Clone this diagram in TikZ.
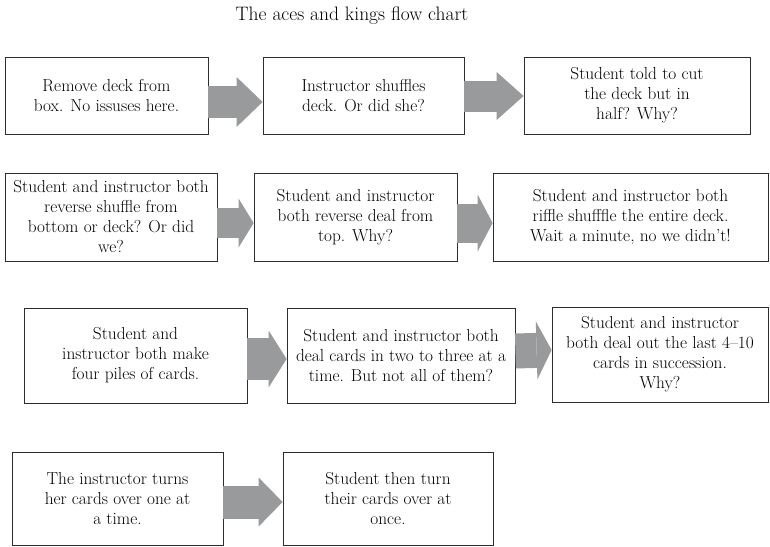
\documentclass[tikz,border=0pt]{standalone}
\usetikzlibrary{arrows.meta}
\definecolor{arrowgray}{RGB}{152,154,156}
\definecolor{boxline}{RGB}{45,45,45}
\tikzset{
  step-box/.style={
    draw=boxline,
    line width=0.8pt,
    rectangle,
    inner sep=0pt,
    align=center,
    font=\fontsize{17.3}{20}\selectfont
  },
  block-arrow/.style n args={3}{
    draw=arrowgray,
    line width=#3,
    -{Triangle[length=#1,width=#2,line width=0pt]}
  },
  chart-title/.style={font=\fontsize{19.5}{22}\selectfont}
}
\newcommand{\stepbox}[6]{
  \node[step-box, minimum width=#4, minimum height=#5] (#1) at (#2,#3) {#6};
}

\begin{document}
\begin{tikzpicture}[x=1pt,y=-1pt]
  \useasboundingbox (0,0) rectangle (770,546);

  \node[chart-title] (title) at (352,16) {The aces and kings flow chart};

  % Row 1
  \stepbox{remove}{106.5}{95.5}{203pt}{77pt}{Remove deck from\\box. No issuses here.}
  \stepbox{shuffle}{363.5}{95.5}{201pt}{77pt}{Instructor shuffles\\deck. Or did she?}
  \stepbox{cut}{637}{95.5}{226pt}{77pt}{Student told to cut\\the deck but in\\half? Why?}

  % Row 2
  \stepbox{revshuffle}{111}{217}{212pt}{88pt}{Student and instructor both\\reverse shuffle from\\bottom or deck? Or did\\we?}
  \stepbox{revdeal}{355.5}{217}{203pt}{88pt}{Student and instructor\\both reverse deal from\\top. Why?}
  \stepbox{riffle}{630.5}{217}{275pt}{88pt}{Student and instructor both\\riffle shufffle the entire deck.\\Wait a minute, no we didn't!}

  % Row 3
  \stepbox{piles}{135.5}{355.5}{223pt}{95pt}{Student and\\instructor both make\\four piles of cards.}
  \stepbox{dealtwo}{401}{355.5}{228pt}{95pt}{Student and instructor both\\deal cards in two to three at a\\time. But not all of them?}
  \stepbox{dealout}{660}{354.5}{216pt}{95pt}{Student and instructor\\both deal out the last 4--10\\cards in succession.\\Why?}

  % Row 4
  \stepbox{turnone}{117.5}{498.5}{211pt}{93pt}{The instructor turns\\her cards over one at\\a time.}
  \stepbox{turnall}{388}{498.5}{210pt}{93pt}{Student then turn\\their cards over at\\once.}

  % Arrows
  \draw[block-arrow={26pt}{50pt}{32pt}] ([yshift=-6.5pt]remove.east) -- ([yshift=-6.5pt]shuffle.west);
  \draw[block-arrow={27pt}{48pt}{31pt}] ([yshift=-0.5pt]shuffle.east) -- ([yshift=-0.5pt]cut.west);
  \draw[block-arrow={15pt}{49pt}{30pt}] ([yshift=-6pt]revshuffle.east) -- ([yshift=-6pt]revdeal.west);
  \draw[block-arrow={15pt}{57pt}{39pt}] ([yshift=-6pt]revdeal.east) -- ([yshift=-6pt]riffle.west);
  \draw[block-arrow={18pt}{57pt}{42pt}] ([yshift=-3.5pt]piles.east) -- ([yshift=-3.5pt]dealtwo.west);
  \draw[block-arrow={15pt}{58pt}{35pt}] ([yshift=4.5pt]dealtwo.east) -- ([yshift=4.5pt]dealout.west);
  \draw[block-arrow={24pt}{49pt}{33pt}] ([yshift=-3.5pt]turnone.east) -- ([yshift=-3.5pt]turnall.west);
\end{tikzpicture}
\end{document}
